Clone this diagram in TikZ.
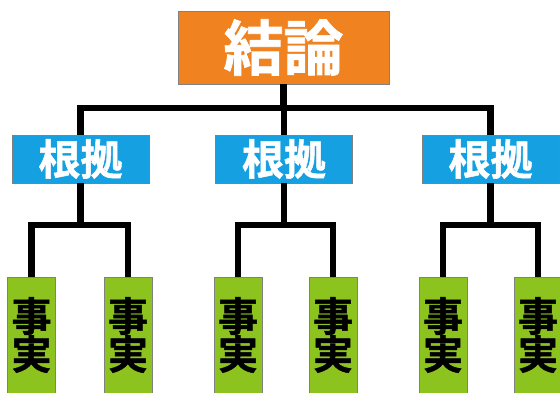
\documentclass[tikz,border=0pt]{standalone}
\usepackage{fontspec}
\setmainfont{Noto Sans CJK JP}[BoldFont={Noto Sans CJK JP Bold}, BoldFeatures={FakeBold=1.2}]
\definecolor{orangebox}{RGB}{240,130,32}
\definecolor{bluebox}{RGB}{20,160,225}
\definecolor{greenbox}{RGB}{140,195,30}
\begin{document}
\begin{tikzpicture}[x=1pt,y=-1pt,
  box/.style={draw=black!50, line width=0.6pt, inner sep=0pt},
  topbox/.style={box, fill=orangebox, text=white, minimum width=211pt, minimum height=73pt,
    font=\bfseries\fontsize{60}{60}\selectfont},
  reasonbox/.style={box, fill=bluebox, text=white, minimum width=137pt, minimum height=48pt,
    font=\bfseries\fontsize{42}{42}\selectfont},
  factbox/.style={box, fill=greenbox, text=black, minimum width=48pt, minimum height=116pt,
    align=center, font=\bfseries\fontsize{40}{38}\selectfont},
  conn/.style={line width=6.5pt, line join=miter}
]
\useasboundingbox (0,0) rectangle (560,392);
\clip (0,0) rectangle (560,392);
\node[topbox] (c) at (283.5,47.5) {結論};
\node[reasonbox] (g1) at (80.5,159) {根拠};
\node[reasonbox] (g2) at (284,159) {根拠};
\node[reasonbox] (g3) at (490.5,159) {根拠};
\node[factbox] (f1a) at (31.5,335) {事\\実};
\node[factbox] (f1b) at (128,335) {事\\実};
\node[factbox] (f2a) at (238,335) {事\\実};
\node[factbox] (f2b) at (333,335) {事\\実};
\node[factbox] (f3a) at (443,335) {事\\実};
\node[factbox] (f3b) at (538,335) {事\\実};
\coordinate (bus) at (0,108);
\coordinate (sub) at (0,225);
\draw[conn] (c.south) -- (c.south |- bus);
\draw[conn] (g1.north) -- (g1.north |- bus) -- (g3.north |- bus) -- (g3.north);
\draw[conn] (g2.north) -- (g2.north |- bus);
\draw[conn] (g1.south) -- (g1.south |- sub);
\draw[conn] (f1a.north) -- (f1a.north |- sub) -- (f1b.north |- sub) -- (f1b.north);
\draw[conn] (g2.south) -- (g2.south |- sub);
\draw[conn] (f2a.north) -- (f2a.north |- sub) -- (f2b.north |- sub) -- (f2b.north);
\draw[conn] (g3.south) -- (g3.south |- sub);
\draw[conn] (f3a.north) -- (f3a.north |- sub) -- (f3b.north |- sub) -- (f3b.north);
\end{tikzpicture}
\end{document}
